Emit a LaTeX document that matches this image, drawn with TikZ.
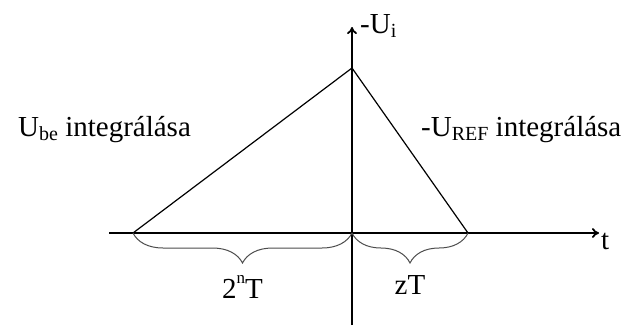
\documentclass[tikz,border=0pt]{standalone}
\usepackage{fontspec}
\setmainfont{Liberation Serif}
\usetikzlibrary{arrows.meta,decorations.pathreplacing}

\tikzset{
  axis/.style={line width=1.8pt,-{To[length=7pt,width=10pt]}},
  ramp/.style={line width=1.2pt},
  span/.style={draw=black!70,line width=1pt,decorate,
    decoration={brace,mirror,amplitude=30pt}},
  lbl/.style={font=\fontsize{29}{32}\selectfont,inner sep=0pt}
}
\newcommand{\lowsub}[1]{\raisebox{-0.3ex}{\fontsize{20}{21}\selectfont #1}}

\begin{document}
\begin{tikzpicture}[x=1pt,y=-1pt]
\useasboundingbox (0,0) rectangle (644,325);
% axes
\coordinate (O) at (352,233);
\coordinate (xl) at (109,233);
\coordinate (xr) at (599,233);
\coordinate (yb) at (352,325);
\coordinate (yt) at (352,27);
\draw[axis] (xl) -- (xr);
\draw[axis] (yb) -- (yt);
% integrator output
\coordinate (A) at (133,233);
\coordinate (P) at (352,68);
\coordinate (B) at (468,233);
\draw[ramp] (A) -- (P) -- (B);
% time spans
\draw[span] (A) -- (O) node[midway,below=42pt,lbl] (n1) {2\raisebox{1.1ex}{\fontsize{17}{18}\selectfont n}T};
\draw[span] (O) -- (B) node[midway,below=42pt,lbl] (n2) {zT};
% labels
\node[lbl,anchor=west] (ti) at (601,241) {t};
\node[lbl,anchor=west] (ui) at (360,26) {-U\lowsub{i}};
\node[lbl,anchor=west] (ube) at (18,130) {U\lowsub{be} integrálása};
\node[lbl,anchor=west] (uref) at (421,130) {-U\lowsub{REF} integrálása};
\end{tikzpicture}
\end{document}
